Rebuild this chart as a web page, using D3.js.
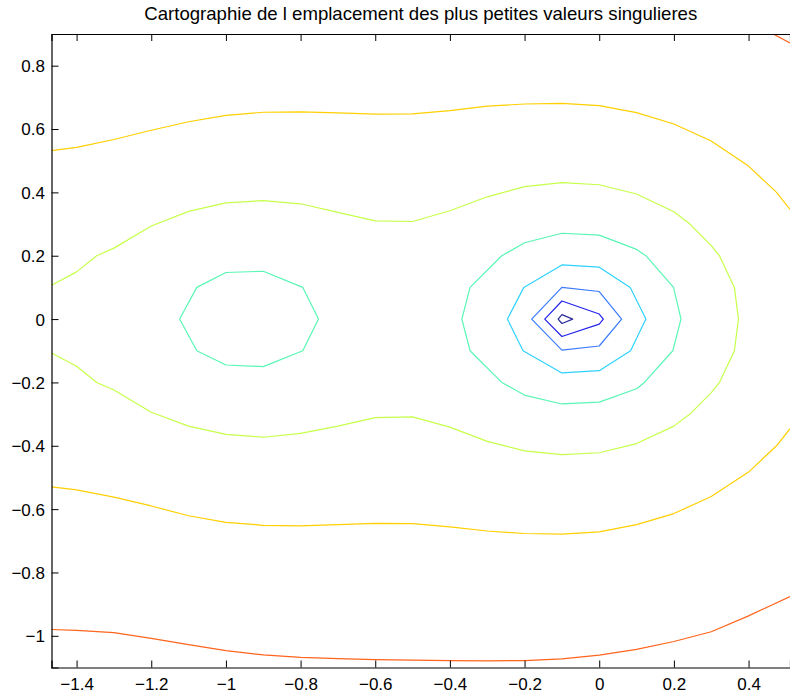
<!DOCTYPE html>
<html>
<head>
<meta charset="utf-8">
<script src="https://cdn.jsdelivr.net/npm/d3@7"></script>
<style>
  html, body { margin: 0; padding: 0; background: #fff; }
  svg { display: block; }
  text { font-family: "Liberation Sans", Arial, Helvetica, sans-serif; fill: #000; }
</style>
</head>
<body>
<svg id="chart" width="790" height="696"></svg>
<script>
// ---------------- data ----------------
const titleText = "Cartographie de l emplacement des plus petites valeurs singulieres";
const xTicks = [-1.4, -1.2, -1, -0.8, -0.6, -0.4, -0.2, 0, 0.2, 0.4];
const yTicks = [-1, -0.8, -0.6, -0.4, -0.2, 0, 0.2, 0.4, 0.6, 0.8];
const xLimits = [-1.4672, 0.511];
const yLimits = [-1.1, 0.9];

// contour levels, from innermost (lowest) to outermost (highest)
const levelNames = ["L0", "L1", "L2", "L3", "L4", "L5", "L6", "L7"];
const levelColors = ["#2b2b9c", "#2323ec", "#3a7bff", "#2fd2ff", "#58f6b4", "#c6ff4a", "#ffcf00", "#ff641c"];

const contourL0 = [[-0.110, 0], [-0.100, 0.014], [-0.071, 0], [-0.100, -0.014]];
const contourL1 = [[-0.146, 0], [-0.100, 0.057], [0, 0.016], [0.011, 0], [0, -0.016], [-0.100, -0.055]];
const contourL2 = [[-0.181, 0], [-0.100, 0.100], [0, 0.087], [0.060, 0], [0, -0.085], [-0.100, -0.098]];
const contourL3 = [[-0.246, 0], [-0.202, 0.100], [-0.100, 0.171], [0, 0.164], [0.083, 0.100], [0.125, 0],
                   [0.084, -0.100], [0, -0.163], [-0.100, -0.170], [-0.204, -0.100]];
const contourL4a = [[-1.124, 0], [-1.078, 0.100], [-1.000, 0.147], [-0.900, 0.151], [-0.794, 0.100], [-0.752, 0],
                    [-0.794, -0.100], [-0.900, -0.150], [-1.000, -0.145], [-1.078, -0.100]];
const contourL4b = [[-0.368, 0], [-0.346, 0.100], [-0.261, 0.200], [-0.200, 0.241], [-0.100, 0.271], [0, 0.265],
                    [0.100, 0.220], [0.125, 0.200], [0.199, 0.100], [0.219, 0], [0.197, -0.100], [0.121, -0.200],
                    [0.100, -0.220], [0, -0.262], [-0.100, -0.268], [-0.198, -0.241], [-0.261, -0.200], [-0.346, -0.100]];
const contourL5 = [[-1.4672, 0.107], [-1.400, 0.149], [-1.346, 0.200], [-1.300, 0.224], [-1.200, 0.294], [-1.100, 0.340],
                   [-1.000, 0.367], [-0.900, 0.374], [-0.800, 0.364], [-0.700, 0.337], [-0.600, 0.310], [-0.500, 0.308],
                   [-0.400, 0.342], [-0.300, 0.386], [-0.200, 0.418], [-0.100, 0.431], [0, 0.424], [0.100, 0.395],
                   [0.200, 0.339], [0.243, 0.300], [0.300, 0.232], [0.322, 0.200], [0.362, 0.100], [0.373, 0],
                   [0.362, -0.100], [0.322, -0.200], [0.300, -0.232], [0.243, -0.300], [0.200, -0.338], [0.100, -0.393],
                   [0, -0.422], [-0.100, -0.428], [-0.200, -0.416], [-0.300, -0.386], [-0.400, -0.341], [-0.500, -0.309],
                   [-0.600, -0.311], [-0.700, -0.338], [-0.800, -0.361], [-0.900, -0.373], [-1.000, -0.364], [-1.100, -0.338],
                   [-1.200, -0.294], [-1.300, -0.224], [-1.346, -0.200], [-1.400, -0.149], [-1.4672, -0.107]];
const contourL6a = [[-1.4672, 0.532], [-1.400, 0.542], [-1.300, 0.567], [-1.200, 0.596], [-1.100, 0.623], [-1.000, 0.643],
                    [-0.900, 0.653], [-0.800, 0.654], [-0.700, 0.651], [-0.600, 0.647], [-0.500, 0.648], [-0.400, 0.658],
                    [-0.300, 0.672], [-0.200, 0.679], [-0.100, 0.681], [0, 0.674], [0.100, 0.652], [0.200, 0.616],
                    [0.300, 0.562], [0.400, 0.483], [0.475, 0.400], [0.511, 0.346]];
const contourL6b = [[-1.4672, -0.530], [-1.400, -0.539], [-1.300, -0.562], [-1.200, -0.590], [-1.100, -0.621], [-1.000, -0.642],
                    [-0.900, -0.651], [-0.800, -0.653], [-0.700, -0.649], [-0.600, -0.645], [-0.500, -0.646], [-0.400, -0.656],
                    [-0.300, -0.669], [-0.200, -0.677], [-0.100, -0.679], [0, -0.672], [0.100, -0.649], [0.200, -0.614],
                    [0.300, -0.560], [0.400, -0.483], [0.475, -0.400], [0.511, -0.346]];
const contourL7a = [[0.466, 0.900], [0.511, 0.872]];
const contourL7b = [[-1.4672, -0.980], [-1.400, -0.983], [-1.300, -0.990], [-1.200, -1.008], [-1.100, -1.028], [-1.000, -1.047],
                    [-0.900, -1.060], [-0.800, -1.068], [-0.700, -1.072], [-0.600, -1.075], [-0.500, -1.077], [-0.400, -1.078],
                    [-0.300, -1.079], [-0.200, -1.078], [-0.100, -1.073], [0, -1.061], [0.100, -1.043], [0.200, -1.018],
                    [0.300, -0.987], [0.400, -0.937], [0.511, -0.876]];

// table built from the named arrays: [level index, points, closed?]
const contours = [
  [0, contourL0, true], [1, contourL1, true], [2, contourL2, true], [3, contourL3, true],
  [4, contourL4a, true], [4, contourL4b, true], [5, contourL5, false],
  [6, contourL6a, false], [6, contourL6b, false], [7, contourL7a, false], [7, contourL7b, false]
];

// ---------------- layout ----------------
const plotLeft = 51.5, plotRight = 790, plotTop = 34, plotBottom = 667.5;
const svg = d3.select("#chart");

const x = d3.scaleLinear().domain(xLimits).range([plotLeft, plotRight]);
const y = d3.scaleLinear().domain(yLimits).range([plotBottom, plotTop]);

svg.append("defs").append("clipPath").attr("id", "plotclip")
  .append("rect").attr("x", plotLeft).attr("y", plotTop)
  .attr("width", plotRight - plotLeft).attr("height", plotBottom - plotTop);

const line = d3.line().x(d => x(d[0])).y(d => y(d[1]));
const lineClosed = d3.line().x(d => x(d[0])).y(d => y(d[1])).curve(d3.curveLinearClosed);

const g = svg.append("g").attr("clip-path", "url(#plotclip)");
g.selectAll("path.contour").data(contours).enter().append("path")
  .attr("class", "contour")
  .attr("d", d => (d[2] ? lineClosed : line)(d[1]))
  .attr("fill", "none")
  .attr("stroke", d => levelColors[d[0]])
  .attr("stroke-width", 1.2)
  .attr("stroke-linejoin", "round");

// ---------------- axes ----------------
const fmt = d3.format("");
const tickLen = 7;

const xAxisB = d3.axisBottom(x).tickValues(xTicks).tickSize(-tickLen).tickPadding(tickLen + 3).tickFormat(fmt);
const gxb = svg.append("g").attr("transform", `translate(0,${plotBottom})`).call(xAxisB);
const xAxisT = d3.axisTop(x).tickValues(xTicks).tickSize(-tickLen).tickFormat("");
const gxt = svg.append("g").attr("transform", `translate(0,${plotTop})`).call(xAxisT);
const yAxisL = d3.axisLeft(y).tickValues(yTicks).tickSize(-tickLen).tickPadding(6.5).tickFormat(fmt);
const gyl = svg.append("g").attr("transform", `translate(${plotLeft},0)`).call(yAxisL);

[gxb, gxt, gyl].forEach(a => {
  a.select(".domain").attr("stroke", "#000").attr("stroke-width", 1.2);
  a.selectAll(".tick line").attr("stroke", "#000").attr("stroke-width", 1);
  a.selectAll("text").style("font-size", "17px").attr("fill", "#000")
    .style("font-family", "'Liberation Sans', Arial, Helvetica, sans-serif");
});
gxb.selectAll(".tick text").attr("dy", "0.71em");
gyl.selectAll(".tick text").attr("dy", "0.35em");

svg.append("text")
  .attr("x", (plotLeft + plotRight) / 2)
  .attr("y", 20)
  .attr("text-anchor", "middle")
  .style("font-size", "18.6px")
  .text(titleText);
</script>
</body>
</html>
